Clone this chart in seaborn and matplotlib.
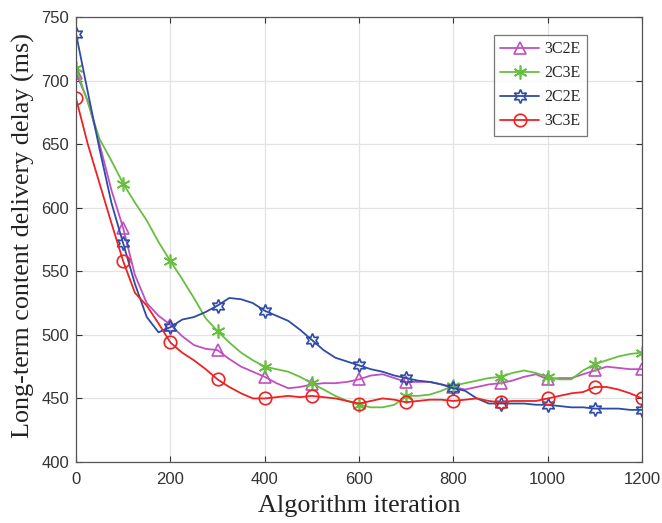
import numpy as np
import pandas as pd
import matplotlib
matplotlib.use("Agg")
import matplotlib.pyplot as plt
import seaborn as sns

iterations = list(range(0, 1201, 25))

delay_3C2E = [706, 684, 650, 614, 584, 547, 525, 515, 508, 499, 492, 489, 488, 481, 475, 471,
              467, 462, 458, 459, 461, 462, 462, 463, 465, 468, 469, 466, 463, 463, 463, 461,
              459, 457, 459, 461, 462, 464, 467, 469, 465, 466, 466, 469, 472, 475, 474, 473, 473]
delay_2C3E = [710, 683, 654, 637, 619, 604, 590, 573, 558, 544, 529, 513, 503, 494, 486, 480,
              475, 473, 471, 467, 462, 457, 452, 448, 445, 443, 443, 445, 452, 452, 453, 456,
              460, 462, 464, 466, 467, 470, 472, 470, 467, 465, 465, 472, 477, 480, 483, 485, 486]
delay_2C2E = [737, 691, 646, 604, 572, 540, 514, 502, 506, 512, 514, 518, 523, 529, 528, 525,
              519, 515, 511, 504, 496, 488, 482, 479, 476, 473, 471, 468, 466, 464, 463, 461,
              458, 456, 450, 446, 446, 446, 446, 445, 445, 444, 443, 443, 442, 442, 442, 441, 441]
delay_3C3E = [686, 650, 619, 588, 558, 533, 523, 509, 494, 486, 480, 473, 465, 459, 454, 450,
              450, 451, 452, 451, 452, 451, 450, 448, 446, 448, 450, 449, 447, 448, 449, 449,
              448, 449, 450, 448, 447, 448, 448, 448, 450, 452, 454, 455, 459, 459, 457, 454, 450]

series_names = ["3C2E", "2C3E", "2C2E", "3C3E"]
x_ticks = [0, 200, 400, 600, 800, 1000, 1200]
y_ticks = [400, 450, 500, 550, 600, 650, 700, 750]

df = pd.DataFrame({
    "iteration": iterations * 4,
    "delay": delay_3C2E + delay_2C3E + delay_2C2E + delay_3C3E,
    "scheme": sum([[n] * len(iterations) for n in series_names], []),
})

colors = {"3C2E": "#C04FC0", "2C3E": "#66BF3F", "2C2E": "#2E4BA6", "3C3E": "#EE2222"}
markers = {"3C2E": dict(marker="^", markersize=9),
           "2C3E": dict(marker=(6, 2, 0), markersize=10),
           "2C2E": dict(marker=(6, 1, 0), markersize=10),
           "3C3E": dict(marker="o", markersize=9)}

sns.set_style("whitegrid")
plt.rcParams["font.family"] = ["Liberation Sans", "DejaVu Sans"]

fig = plt.figure(figsize=(6.62, 5.23), dpi=100)
ax = fig.add_axes([76 / 662, 1 - 462 / 523, (642 - 76) / 662, (462 - 17) / 523])

for name in series_names:
    sub = df[df["scheme"] == name]
    sns.lineplot(data=sub, x="iteration", y="delay", ax=ax, color=colors[name],
                 linewidth=1.3, markevery=4, markerfacecolor="none",
                 markeredgecolor=colors[name], markeredgewidth=1.2,
                 label=name, **markers[name])

ax.set_xlim(0, 1200)
ax.set_ylim(400, 750)
ax.set_xticks(x_ticks)
ax.set_yticks(y_ticks)
ax.tick_params(direction="in", length=4, width=0.8, colors="#333333",
               labelsize=12, top=True, right=True, bottom=True, left=True,
               labelcolor="#333333")
ax.tick_params(axis="x", pad=7)
ax.tick_params(axis="y", pad=5)
ax.grid(True, color="#E3E3E3", linewidth=0.9)
for s in ax.spines.values():
    s.set_color("#555555")
    s.set_linewidth(0.9)

ax.set_xlabel("Algorithm iteration", family=["Liberation Serif"], fontsize=18.8, color="#222222", labelpad=6)
ax.set_ylabel("Long-term content delivery delay (ms)", family=["Liberation Serif"], fontsize=18.8,
              color="#222222")
ax.yaxis.set_label_coords(-0.072, 0.51)

leg = ax.legend(loc="upper right", bbox_to_anchor=(0.903, 0.96), borderaxespad=0,
                frameon=True, fancybox=False,
                prop={"family": "Liberation Serif", "size": 11.5}, handlelength=2.4,
                borderpad=0.4, labelspacing=0.5, handletextpad=0.35)
leg.get_frame().set_edgecolor("#555555")
leg.get_frame().set_linewidth(0.9)

fig.savefig("out.png", dpi=100)
